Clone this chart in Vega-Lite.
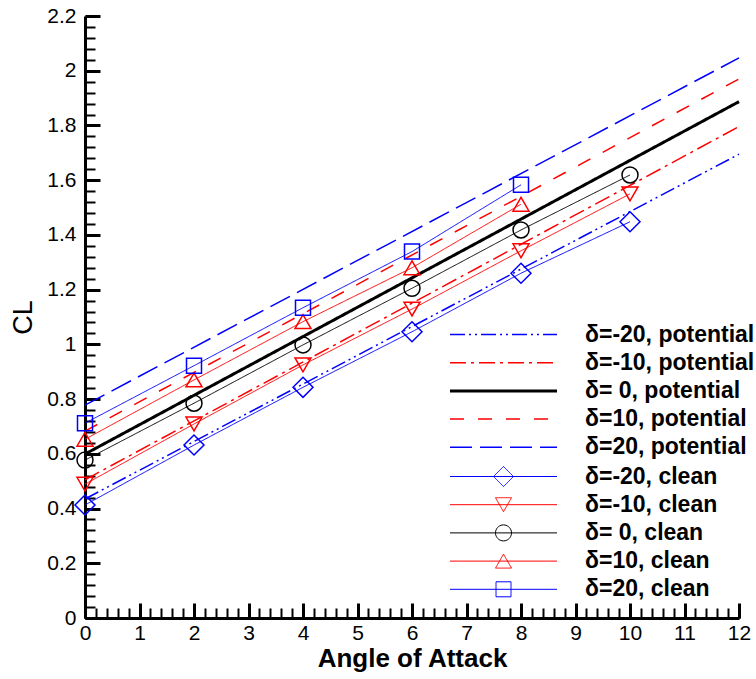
{
  "$schema": "https://vega.github.io/schema/vega-lite/v6.json",
  "width": 654,
  "height": 602,
  "autosize": {"type": "none"},
  "padding": {"left": 85, "top": 16, "right": 17, "bottom": 61},
  "config": {
    "view": {"stroke": null},
    "font": "Liberation Sans",
    "axis": {"grid": false, "domainColor": "black", "tickColor": "black", "labelColor": "black", "titleColor": "black"}
  },
  "datasets": {
    "cl": [
      {"series": "δ=-20, potential", "kind": "potential", "alpha": 0, "CL": 0.435},
      {"series": "δ=-20, potential", "kind": "potential", "alpha": 12, "CL": 1.695},
      {"series": "δ=-10, potential", "kind": "potential", "alpha": 0, "CL": 0.505},
      {"series": "δ=-10, potential", "kind": "potential", "alpha": 12, "CL": 1.796},
      {"series": "δ= 0, potential", "kind": "potential", "alpha": 0, "CL": 0.599},
      {"series": "δ= 0, potential", "kind": "potential", "alpha": 12, "CL": 1.887},
      {"series": "δ=10, potential", "kind": "potential", "alpha": 0, "CL": 0.683},
      {"series": "δ=10, potential", "kind": "potential", "alpha": 12, "CL": 1.970},
      {"series": "δ=20, potential", "kind": "potential", "alpha": 0, "CL": 0.778},
      {"series": "δ=20, potential", "kind": "potential", "alpha": 12, "CL": 2.047},
      {"series": "δ=-20, clean", "kind": "clean", "alpha": 0, "CL": 0.413},
      {"series": "δ=-20, clean", "kind": "clean", "alpha": 2, "CL": 0.632},
      {"series": "δ=-20, clean", "kind": "clean", "alpha": 4, "CL": 0.843},
      {"series": "δ=-20, clean", "kind": "clean", "alpha": 6, "CL": 1.046},
      {"series": "δ=-20, clean", "kind": "clean", "alpha": 8, "CL": 1.260},
      {"series": "δ=-20, clean", "kind": "clean", "alpha": 10, "CL": 1.448},
      {"series": "δ=-10, clean", "kind": "clean", "alpha": 0, "CL": 0.489},
      {"series": "δ=-10, clean", "kind": "clean", "alpha": 2, "CL": 0.709},
      {"series": "δ=-10, clean", "kind": "clean", "alpha": 4, "CL": 0.925},
      {"series": "δ=-10, clean", "kind": "clean", "alpha": 6, "CL": 1.129},
      {"series": "δ=-10, clean", "kind": "clean", "alpha": 8, "CL": 1.342},
      {"series": "δ=-10, clean", "kind": "clean", "alpha": 10, "CL": 1.550},
      {"series": "δ= 0, clean", "kind": "clean", "alpha": 0, "CL": 0.577},
      {"series": "δ= 0, clean", "kind": "clean", "alpha": 2, "CL": 0.785},
      {"series": "δ= 0, clean", "kind": "clean", "alpha": 4, "CL": 0.998},
      {"series": "δ= 0, clean", "kind": "clean", "alpha": 6, "CL": 1.205},
      {"series": "δ= 0, clean", "kind": "clean", "alpha": 8, "CL": 1.418},
      {"series": "δ= 0, clean", "kind": "clean", "alpha": 10, "CL": 1.619},
      {"series": "δ=10, clean", "kind": "clean", "alpha": 0, "CL": 0.653},
      {"series": "δ=10, clean", "kind": "clean", "alpha": 2, "CL": 0.870},
      {"series": "δ=10, clean", "kind": "clean", "alpha": 4, "CL": 1.083},
      {"series": "δ=10, clean", "kind": "clean", "alpha": 6, "CL": 1.280},
      {"series": "δ=10, clean", "kind": "clean", "alpha": 8, "CL": 1.512},
      {"series": "δ=20, clean", "kind": "clean", "alpha": 0, "CL": 0.712},
      {"series": "δ=20, clean", "kind": "clean", "alpha": 2, "CL": 0.922},
      {"series": "δ=20, clean", "kind": "clean", "alpha": 4, "CL": 1.134},
      {"series": "δ=20, clean", "kind": "clean", "alpha": 6, "CL": 1.339},
      {"series": "δ=20, clean", "kind": "clean", "alpha": 8, "CL": 1.583}
    ]
  },
  "data": {"name": "cl"},
  "layer": [
    {
      "mark": {"type": "line", "clip": false},
      "encoding": {
        "x": {
          "field": "alpha", "type": "quantitative",
          "scale": {"domain": [0, 12], "nice": false, "zero": false},
          "axis": {
            "orient": "bottom",
            "values": [0, 1, 2, 3, 4, 5, 6, 7, 8, 9, 10, 11, 12],
            "tickSize": -15, "tickWidth": 3, "domainWidth": 3,
            "labelFontSize": 21, "labelPadding": 19, "labelFlush": false,
            "title": "Angle of Attack", "titleFontSize": 26, "titleFontWeight": "bold", "titlePadding": 2
          }
        },
        "y": {
          "field": "CL", "type": "quantitative",
          "scale": {"domain": [0, 2.2], "nice": false},
          "axis": {
            "orient": "left",
            "values": [0, 0.2, 0.4, 0.6, 0.8, 1, 1.2, 1.4, 1.6, 1.8, 2, 2.2],
            "format": "~g",
            "tickSize": -15, "tickWidth": 3, "domainWidth": 3,
            "labelFontSize": 21, "labelPadding": 24, "labelFlush": false,
            "title": "CL", "titleFontSize": 27, "titleFontWeight": "normal", "titlePadding": 9
          }
        },
        "color": {
          "field": "series", "type": "nominal",
          "scale": {
            "domain": ["δ=-20, potential", "δ=-10, potential", "δ= 0, potential", "δ=10, potential", "δ=20, potential", "δ=-20, clean", "δ=-10, clean", "δ= 0, clean", "δ=10, clean", "δ=20, clean"],
            "range": ["#0000ff", "#ff0000", "#000000", "#ff0000", "#0000ff", "#0000ff", "#ff0000", "#000000", "#ff0000", "#0000ff"]
          },
          "legend": {
            "title": null,
            "orient": "none",
            "legendX": 407,
            "legendY": 307,
            "symbolSize": 100,
            "labelFontSize": 23,
            "labelFontWeight": "bold",
            "labelColor": "black",
            "labelOffset": 70,
            "labelLimit": 0,
            "rowPadding": 4.2,
            "encode": {
              "symbols": {
                "update": {
                  "fill": {"value": "transparent"},
                  "shape": {"signal": "datum.value === 'δ=-20, clean' ? 'M-10.7,0H10.7M0,-2L2,0L0,2L-2,0Z' : datum.value === 'δ=-10, clean' ? 'M-10.7,0H10.7M-1.6,-1.4H1.6L0,1.4Z' : datum.value === 'δ= 0, clean' ? 'M-10.7,0H10.7M1.6,0A1.6,1.6,0,1,1,-1.6,0A1.6,1.6,0,1,1,1.6,0Z' : datum.value === 'δ=10, clean' ? 'M-10.7,0H10.7M0,-1.4L1.6,1.4H-1.6Z' : datum.value === 'δ=20, clean' ? 'M-10.7,0H10.7M-1.5,-1.5H1.5V1.5H-1.5Z' : 'M-10.7,0H10.7'"}
                }
              }
            }
          }
        },
        "strokeDash": {
          "field": "series", "type": "nominal",
          "scale": {
            "domain": ["δ=-20, potential", "δ=-10, potential", "δ= 0, potential", "δ=10, potential", "δ=20, potential", "δ=-20, clean", "δ=-10, clean", "δ= 0, clean", "δ=10, clean", "δ=20, clean"],
            "range": [[15, 4, 2, 4, 2, 4], [16, 5, 3, 5], [1, 0], [14, 14], [22, 8], [1, 0], [1, 0], [1, 0], [1, 0], [1, 0]]
          }
        },
        "strokeWidth": {
          "field": "series", "type": "nominal",
          "scale": {
            "type": "ordinal",
            "domain": ["δ=-20, potential", "δ=-10, potential", "δ= 0, potential", "δ=10, potential", "δ=20, potential", "δ=-20, clean", "δ=-10, clean", "δ= 0, clean", "δ=10, clean", "δ=20, clean"],
            "range": [1.5, 1.5, 3, 1.5, 1.5, 1, 1, 1, 1, 1]
          }
        }
      }
    },
    {
      "transform": [{"filter": "datum.kind === 'clean'"}],
      "mark": {"type": "point", "filled": false, "strokeWidth": 1.5, "opacity": 1, "clip": false},
      "encoding": {
        "x": {
          "field": "alpha", "type": "quantitative",
          "axis": {
            "orient": "bottom", "tickCount": 60, "labels": false, "domain": false, "title": null,
            "tickSize": -10, "tickWidth": 2
          }
        },
        "y": {
          "field": "CL", "type": "quantitative",
          "axis": {
            "orient": "left",
            "values": [0, 0.04, 0.08, 0.12, 0.16, 0.2, 0.24, 0.28, 0.32, 0.36, 0.4, 0.44, 0.48, 0.52, 0.56, 0.6, 0.64, 0.68, 0.72, 0.76, 0.8, 0.84, 0.88, 0.92, 0.96, 1, 1.04, 1.08, 1.12, 1.16, 1.2, 1.24, 1.28, 1.32, 1.36, 1.4, 1.44, 1.48, 1.52, 1.56, 1.6, 1.64, 1.68, 1.72, 1.76, 1.8, 1.84, 1.88, 1.92, 1.96, 2, 2.04, 2.08, 2.12, 2.16, 2.2],
            "labels": false, "domain": false, "title": null,
            "tickSize": -10, "tickWidth": 2
          }
        },
        "color": {"field": "series", "type": "nominal"},
        "shape": {
          "field": "series", "type": "nominal",
          "scale": {
            "domain": ["δ=-20, clean", "δ=-10, clean", "δ= 0, clean", "δ=10, clean", "δ=20, clean"],
            "range": ["diamond", "triangle-down", "circle", "triangle-up", "square"]
          },
          "legend": null
        },
        "size": {
          "field": "series", "type": "nominal",
          "scale": {
            "type": "ordinal",
            "domain": ["δ=-20, clean", "δ=-10, clean", "δ= 0, clean", "δ=10, clean", "δ=20, clean"],
            "range": [400, 256, 256, 256, 225]
          },
          "legend": null
        }
      }
    }
  ],
  "resolve": {"axis": {"x": "independent", "y": "independent"}}
}
